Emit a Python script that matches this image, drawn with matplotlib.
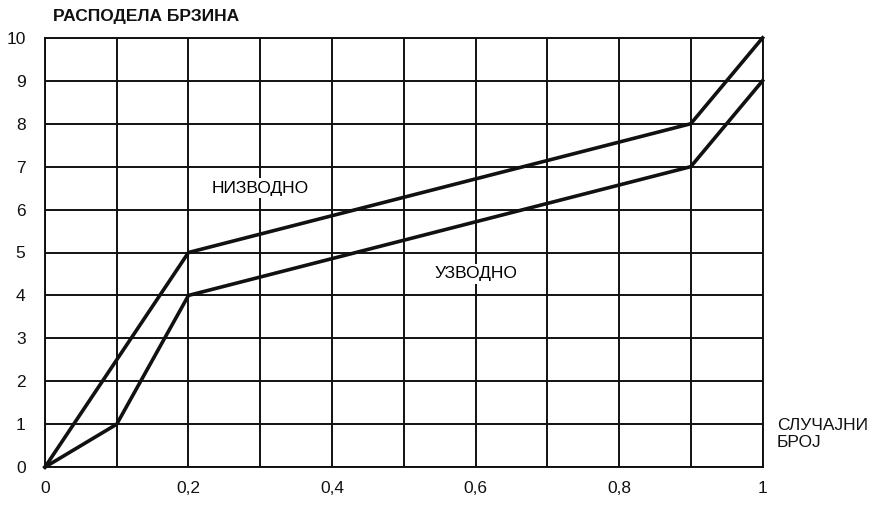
import matplotlib
matplotlib.use("Agg")
import matplotlib.pyplot as plt
import numpy as np

plt.rcParams['font.family'] = ['Liberation Sans', 'DejaVu Sans']

# data
x_down = [0, 0.2, 0.9, 1.0]
y_down = [0, 5, 8, 10]
x_up = [0, 0.1, 0.2, 0.9, 1.0]
y_up = [0, 1, 4, 7, 9]
x_ticks = [0, 0.2, 0.4, 0.6, 0.8, 1.0]
x_ticklabels = ["0", "0,2", "0,4", "0,6", "0,8", "1"]
y_ticks = list(range(0, 11))
label_down = "НИЗВОДНО"
label_up = "УЗВОДНО"
title = "РАСПОДЕЛА БРЗИНА"
xlabel = "СЛУЧАЈНИ\nБРОЈ"

fig = plt.figure(figsize=(8.73, 5.05), dpi=100)
ax = fig.add_axes([0.0515, 0.075, 0.822, 0.85])
ax.set_xlim(0, 1)
ax.set_ylim(0, 10)

# grid
for gx in np.arange(0, 1.01, 0.1):
    ax.axvline(gx, color='#111111', lw=1.4, zorder=1)
for gy in range(0, 11):
    ax.axhline(gy, color='#111111', lw=1.4, zorder=1)

ax.plot(x_down, y_down, color='#111111', lw=2.6, zorder=3, solid_joinstyle='miter', clip_on=False)
ax.plot(x_up, y_up, color='#111111', lw=2.6, zorder=3, solid_joinstyle='miter', clip_on=False)

ax.text(0.3, 6.5, label_down, ha='center', va='center', fontsize=12.5, zorder=2,
        bbox=dict(facecolor='white', edgecolor='none', pad=2))
ax.text(0.6, 4.5, label_up, ha='center', va='center', fontsize=12.5, zorder=2,
        bbox=dict(facecolor='white', edgecolor='none', pad=2))

ax.set_xticks(x_ticks)
ax.set_xticklabels(x_ticklabels)
ax.set_yticks(y_ticks)
ax.tick_params(length=0, labelsize=12.5, colors='#111111')
ax.tick_params(axis='y', pad=14)
ax.tick_params(axis='x', pad=10)
for s in ax.spines.values():
    s.set_linewidth(1.4)
    s.set_color('#111111')

fig.text(53/873, 1 - 16/505, title, ha='left', va='center', fontsize=12.5, fontweight='bold', color='#111111')
fig.text(777/873, 1 - 434/505, xlabel, ha='left', va='center', fontsize=12.5, color='#111111', linespacing=1.2)

fig.savefig("out.png", dpi=100)
